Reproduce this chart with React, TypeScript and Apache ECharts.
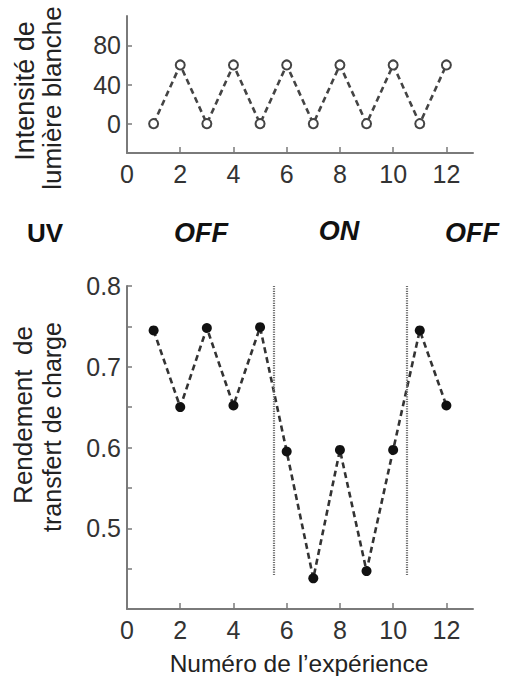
import React, { useEffect, useRef } from "react";
import * as echarts from "echarts";

const experiments = [1, 2, 3, 4, 5, 6, 7, 8, 9, 10, 11, 12];
const whiteLight = [0, 60, 0, 60, 0, 60, 0, 60, 0, 60, 0, 60];
const chargeTransfer = [0.745, 0.65, 0.748, 0.652, 0.749, 0.595, 0.438, 0.597, 0.447, 0.597, 0.745, 0.652];
const xTickLabels = [0, 2, 4, 6, 8, 10, 12];
const topYTickLabels = [0, 40, 80];
const bottomYTickLabels = [0.5, 0.6, 0.7, 0.8];
const bottomYTicks = [0.45, 0.5, 0.55, 0.6, 0.65, 0.7, 0.75, 0.8];
const uvSwitches = [5.5, 10.5];
const uvLineRange = [0.442, 0.8];
const uvStates = ["OFF", "ON", "OFF"];

const FONT = "'Liberation Sans', Arial, Helvetica, sans-serif";
const AXIS_COLOR = "#7a7a7a";
const LABEL_COLOR = "#333";

function xAxis(gridIndex: number) {
  return {
    type: "value",
    gridIndex,
    min: 0,
    max: 13,
    axisLine: { show: true, onZero: false, lineStyle: { color: AXIS_COLOR, width: 2 } },
    axisTick: {
      show: true,
      inside: true,
      length: 6,
      customValues: xTickLabels.filter((v) => v > 0),
      lineStyle: { color: AXIS_COLOR, width: 1.5 },
    },
    axisLabel: {
      customValues: xTickLabels,
      fontSize: 25,
      color: LABEL_COLOR,
      fontFamily: FONT,
      margin: 8,
    },
    splitLine: { show: false },
  };
}

export default function App() {
  const ref = useRef<HTMLDivElement>(null);
  useEffect(() => {
    if (!ref.current) return;
    const chart = echarts.init(ref.current, null, { renderer: "svg" });
    const option: any = {
      animation: false,
      backgroundColor: "#fff",
      grid: [
        { left: 127, top: 16, width: 346, height: 137 },
        { left: 127, top: 286, width: 346, height: 323 },
      ],
      xAxis: [xAxis(0), xAxis(1)],
      yAxis: [
        {
          type: "value",
          gridIndex: 0,
          min: -30,
          max: 110,
          axisLine: { show: true, onZero: false, lineStyle: { color: AXIS_COLOR, width: 2 } },
          axisTick: {
            show: true,
            inside: true,
            length: 5,
            customValues: topYTickLabels,
            lineStyle: { color: AXIS_COLOR, width: 1.5 },
          },
          axisLabel: {
            customValues: topYTickLabels,
            fontSize: 25,
            color: LABEL_COLOR,
            fontFamily: FONT,
            margin: 6,
          },
          splitLine: { show: false },
        },
        {
          type: "value",
          gridIndex: 1,
          min: 0.4,
          max: 0.8,
          axisLine: { show: true, onZero: false, lineStyle: { color: AXIS_COLOR, width: 2 } },
          axisTick: {
            show: true,
            inside: true,
            length: 5,
            customValues: bottomYTicks,
            lineStyle: { color: AXIS_COLOR, width: 1.5 },
          },
          axisLabel: {
            customValues: bottomYTickLabels,
            formatter: (v: number) => v.toFixed(1),
            fontSize: 25,
            color: LABEL_COLOR,
            fontFamily: FONT,
            margin: 6,
          },
          splitLine: { show: false },
        },
      ],
      series: [
        {
          type: "line",
          xAxisIndex: 0,
          yAxisIndex: 0,
          data: experiments.map((x, i) => [x, whiteLight[i]]),
          symbol: "emptyCircle",
          symbolSize: 9,
          itemStyle: { color: "#444", borderWidth: 1.6, borderColor: "#444" },
          lineStyle: { color: "#444", width: 2.6, type: [6, 4] },
        },
        {
          type: "line",
          xAxisIndex: 1,
          yAxisIndex: 1,
          data: experiments.map((x, i) => [x, chargeTransfer[i]]),
          symbol: "circle",
          symbolSize: 10,
          itemStyle: { color: "#111" },
          lineStyle: { color: "#333", width: 2.6, type: [6, 4] },
          markLine: {
            silent: true,
            symbol: ["none", "none"],
            label: { show: false },
            lineStyle: { type: [1.2, 1.2], color: "#6e6e6e", width: 2.2 },
            data: uvSwitches.map((x) => [
              { coord: [x, uvLineRange[0]] },
              { coord: [x, uvLineRange[1]] },
            ]),
          },
        },
      ],
      graphic: [
        { type: "text", x: 25, y: 91, rotation: Math.PI / 2, style: { text: "Intensité de", font: `27px ${FONT}`, fill: "#222", align: "center", verticalAlign: "middle" } },
        { type: "text", x: 52, y: 98, rotation: Math.PI / 2, style: { text: "lumière blanche", font: `26px ${FONT}`, fill: "#222", align: "center", verticalAlign: "middle" } },
        { type: "text", x: 23, y: 415, rotation: Math.PI / 2, style: { text: "Rendement  de", font: `26px ${FONT}`, fill: "#222", align: "center", verticalAlign: "middle" } },
        { type: "text", x: 52, y: 427, rotation: Math.PI / 2, style: { text: "transfert de charge", font: `25px ${FONT}`, fill: "#222", align: "center", verticalAlign: "middle" } },
        { type: "text", x: 299, y: 663, style: { text: "Numéro de l’expérience", font: `24.5px ${FONT}`, fill: "#222", align: "center", verticalAlign: "middle" } },
        { type: "text", x: 45, y: 233, style: { text: "UV", font: `bold 26px ${FONT}`, fill: "#111", align: "center", verticalAlign: "middle" } },
        { type: "text", x: 201, y: 233, style: { text: uvStates[0], font: `italic bold 27px ${FONT}`, fill: "#111", align: "center", verticalAlign: "middle" } },
        { type: "text", x: 339, y: 231, style: { text: uvStates[1], font: `italic bold 27px ${FONT}`, fill: "#111", align: "center", verticalAlign: "middle" } },
        { type: "text", x: 472, y: 233, style: { text: uvStates[2], font: `italic bold 27px ${FONT}`, fill: "#111", align: "center", verticalAlign: "middle" } },
      ],
    };
    chart.setOption(option);
    return () => chart.dispose();
  }, []);
  return (
    <div
      ref={ref}
      style={{ position: "absolute", left: 0, top: 0, width: 506, height: 676 }}
    />
  );
}
